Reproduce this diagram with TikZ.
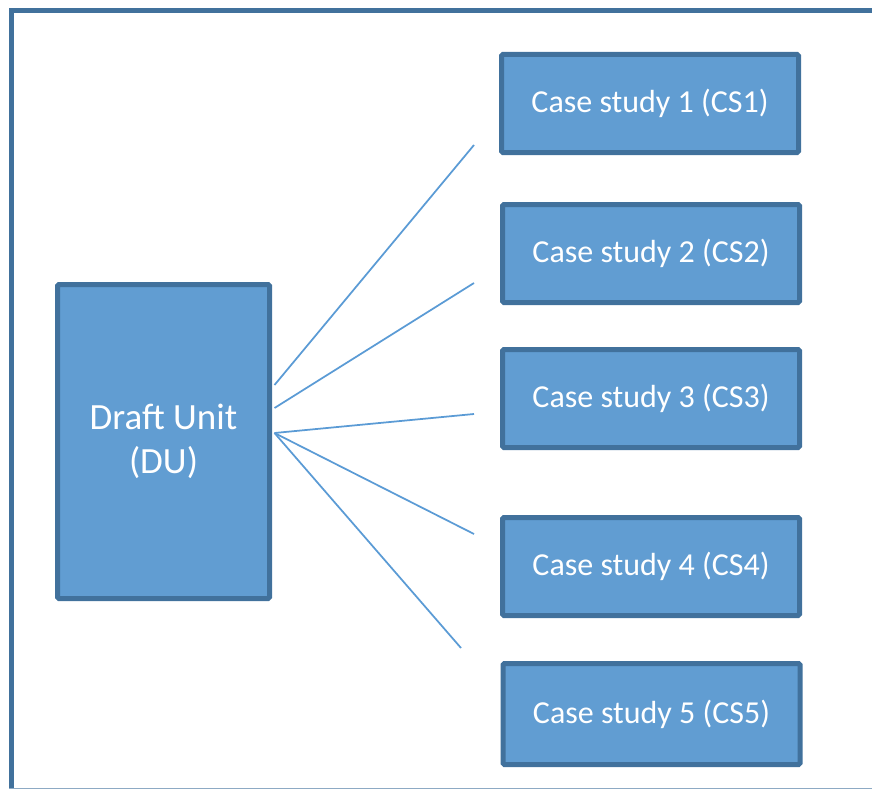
\documentclass[tikz,border=0pt]{standalone}
\usepackage{fontspec}
\setmainfont{Carlito}
\definecolor{BoxFill}{RGB}{97,157,210}
\definecolor{BoxBorder}{RGB}{65,113,156}
\definecolor{LinkLine}{RGB}{91,155,213}
\usetikzlibrary{calc}

\begin{document}
\begin{tikzpicture}[x=1pt, y=-1pt,
    unitbox/.style={draw=BoxBorder, line width=5pt, fill=BoxFill, rounded corners=1.5pt,
        text=white, align=center, inner sep=0pt},
    casebox/.style={unitbox, minimum width=297pt, minimum height=98pt,
        font=\fontsize{32}{38}\selectfont},
    link/.style={draw=LinkLine, line width=1.75pt}]

    \useasboundingbox (0,0) rectangle (872,789);

    % Marco exterior
    \draw[draw=BoxBorder!60, line width=5pt] (11.5,10.5) rectangle (880,790.5);
    \draw[draw=BoxBorder, line width=5pt] (11.5,788) -- (11.5,10.5) -- (880,10.5);

    % Unidad principal
    \node[unitbox, minimum width=212pt, minimum height=314pt,
        font=\fontsize{37}{44}\selectfont] (DU) at (163.5,441.5) {Draft Unit\\(DU)};

    % Casos de estudio
    \node[casebox] (CS1) at (650,103.5) {Case study 1 (CS1)};
    \node[casebox] (CS2) at (651,253.5) {Case study 2 (CS2)};
    \node[casebox] (CS3) at (651,398.5) {Case study 3 (CS3)};
    \node[casebox] (CS4) at (651,566.5) {Case study 4 (CS4)};
    \node[casebox, minimum height=101pt] (CS5) at (651.5,714) {Case study 5 (CS5)};

    % Puntos de salida y llegada de las ramas
    \coordinate (s1) at ($(DU.east)+(2.5,-56.5)$);
    \coordinate (s2) at ($(DU.east)+(2.5,-33.5)$);
    \coordinate (s3) at ($(DU.east)+(2.5,-8.5)$);
    \coordinate (e1) at (474,145);
    \coordinate (e2) at (474,283);
    \coordinate (e3) at (474,414);
    \coordinate (e4) at (474,534);
    \coordinate (e5) at (461,648);

    % Ramas
    \draw[link] (s1) -- (e1);
    \draw[link] (s2) -- (e2);
    \draw[link] (s3) -- (e3);
    \draw[link] (s3) -- (e4);
    \draw[link] (s3) -- (e5);
\end{tikzpicture}
\end{document}
